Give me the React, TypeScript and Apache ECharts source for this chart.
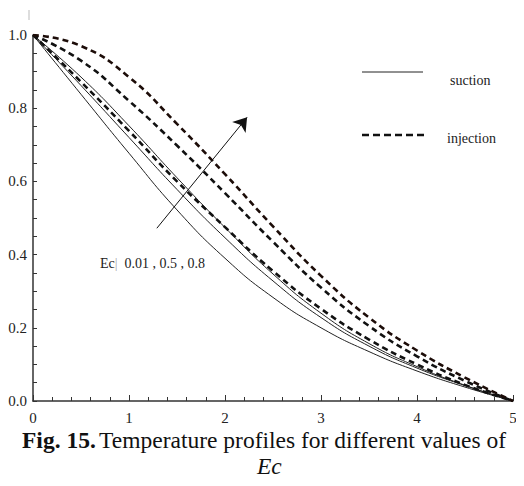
import React, { useEffect, useRef } from "react";
import * as echarts from "echarts";

const xs = [0, 0.5, 1, 1.5, 2, 2.5, 3, 3.5, 4, 4.5, 5];
const suctionLow = [1, 0.838, 0.677, 0.522, 0.39, 0.283, 0.2, 0.135, 0.082, 0.038, 0];
const suctionMid = [1, 0.862, 0.72, 0.578, 0.446, 0.328, 0.228, 0.15, 0.09, 0.042, 0];
const suctionHigh = [1, 0.885, 0.752, 0.61, 0.474, 0.347, 0.24, 0.157, 0.094, 0.043, 0];
const injectionLow = [1, 0.872, 0.738, 0.6, 0.475, 0.355, 0.252, 0.168, 0.1, 0.044, 0];
const injectionMid = [1, 0.93, 0.82, 0.698, 0.568, 0.435, 0.31, 0.205, 0.122, 0.055, 0];
const injectionHigh = [1, 0.97, 0.885, 0.757, 0.62, 0.477, 0.342, 0.228, 0.138, 0.064, 0];
const yTicks = ["0.0", "0.2", "0.4", "0.6", "0.8", "1.0"];
const arrowStart = [1.29, 0.472];
const arrowEnd = [2.23, 0.775];

const FONT = "'Liberation Serif', 'Times New Roman', serif";

const toPairs = (ys: number[]) => xs.map((x, i) => [x, ys[i]]);

export default function App() {
  const ref = useRef<HTMLDivElement>(null);
  useEffect(() => {
    if (!ref.current) return;
    const chart = echarts.init(ref.current, null, { renderer: "svg" });
    const solid = (name: string, ys: number[]) => ({
      name,
      type: "line",
      data: toPairs(ys),
      smooth: 0.5,
      showSymbol: false,
      lineStyle: { color: "#222", width: 1, type: "solid" },
    });
    const dashed = (name: string, ys: number[], color: string) => ({
      name,
      type: "line",
      data: toPairs(ys),
      smooth: 0.5,
      showSymbol: false,
      lineStyle: { color, width: 2.6, type: [6, 4] },
    });
    const series: any[] = [
      solid("suction 0.01", suctionLow),
      solid("suction 0.5", suctionMid),
      solid("suction 0.8", suctionHigh),
      dashed("injection 0.01", injectionLow, "#111"),
      dashed("injection 0.5", injectionMid, "#111"),
      dashed("injection 0.8", injectionHigh, "#1c0c08"),
    ];
    series[0].markLine = {
      silent: true,
      symbol: ["none", "arrow"],
      symbolSize: 13,
      label: { show: false },
      lineStyle: { color: "#111", width: 1, type: "solid" },
      data: [[{ coord: arrowStart }, { coord: arrowEnd }]],
    };
    chart.setOption({
      animation: false,
      backgroundColor: "#fff",
      grid: { left: 33, right: 11, top: 35, bottom: 85 },
      xAxis: {
        type: "value",
        min: 0,
        max: 5,
        interval: 1,
        axisLine: { show: true, lineStyle: { color: "#333", width: 1.5 } },
        axisTick: { show: true, inside: true, length: 6, lineStyle: { color: "#333" } },
        minorTick: { show: true, splitNumber: 5, length: 4, lineStyle: { color: "#333" } },
        splitLine: { show: false },
        axisLabel: { color: "#222", fontFamily: FONT, fontSize: 15, margin: 9 },
      },
      yAxis: {
        type: "value",
        min: 0,
        max: 1,
        interval: 0.2,
        axisLine: { show: true, lineStyle: { color: "#333", width: 1.5 } },
        axisTick: { show: true, inside: true, length: 4, lineStyle: { color: "#333" } },
        minorTick: { show: true, splitNumber: 4, length: 4, lineStyle: { color: "#333" } },
        splitLine: { show: false },
        axisLabel: {
          color: "#222",
          fontFamily: FONT,
          fontSize: 15,
          margin: 6,
          formatter: (v: number) => yTicks[Math.round(v / 0.2)] ?? "",
        },
      },
      series,
      graphic: [
        { type: "line", shape: { x1: 29, y1: 10, x2: 29, y2: 20 }, style: { stroke: "#bbb", lineWidth: 1 } },
        { type: "line", shape: { x1: 362, y1: 72, x2: 423, y2: 72 }, style: { stroke: "#222", lineWidth: 1 } },
        {
          type: "text",
          x: 450,
          y: 80,
          style: { text: "suction", fontFamily: FONT, fontSize: 14, fill: "#222", verticalAlign: "middle" },
        },
        {
          type: "line",
          shape: { x1: 362, y1: 135, x2: 425, y2: 135 },
          style: { stroke: "#111", lineWidth: 2.6, lineDash: [7, 4] },
        },
        {
          type: "text",
          x: 447,
          y: 138,
          style: { text: "injection", fontFamily: FONT, fontSize: 14, fill: "#222", verticalAlign: "middle" },
        },
        {
          type: "text",
          x: 100,
          y: 263,
          style: {
            text: "{a|Ec}{g||}{a|  0.01 , 0.5 , 0.8}",
            verticalAlign: "middle",
            rich: {
              a: { fontFamily: FONT, fontSize: 14, fill: "#222" },
              g: { fontFamily: FONT, fontSize: 14, fill: "#aaa" },
            },
          },
        },
        {
          type: "text",
          x: 22,
          y: 440,
          style: {
            text: "{b|Fig. 15.} {r|Temperature profiles for different values of}",
            verticalAlign: "middle",
            rich: {
              b: { fontFamily: FONT, fontSize: 23.5, fontWeight: "bold", fill: "#111" },
              r: { fontFamily: FONT, fontSize: 23.5, fill: "#111" },
            },
          },
        },
        {
          type: "text",
          x: 257,
          y: 466,
          style: { text: "Ec", fontFamily: FONT, fontSize: 23.5, fontStyle: "italic", fill: "#111", verticalAlign: "middle" },
        },
      ],
    });
    return () => chart.dispose();
  }, []);
  return <div ref={ref} style={{ width: 524, height: 486, margin: -8 }} />;
}
